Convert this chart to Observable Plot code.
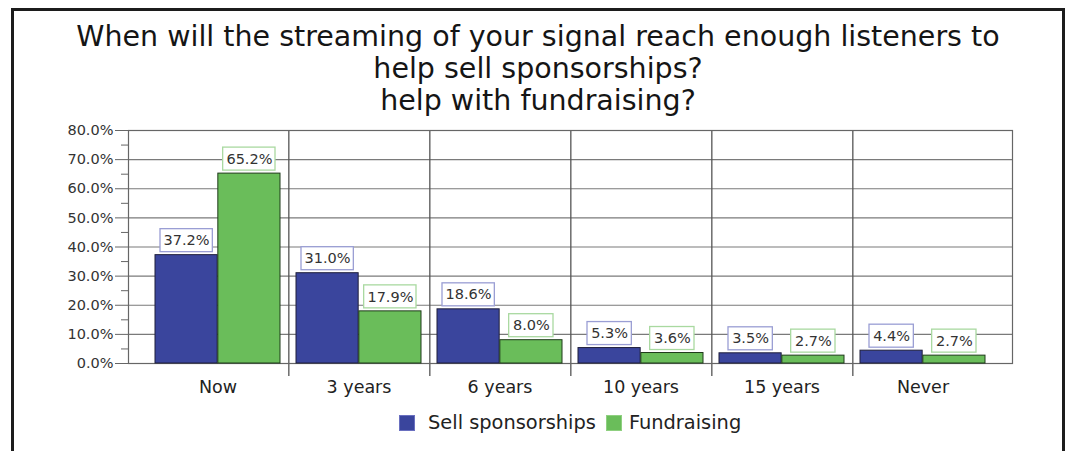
<!DOCTYPE html>
<html>
<head>
<meta charset="utf-8">
<script src="https://cdn.jsdelivr.net/npm/d3@7"></script>
<script src="https://cdn.jsdelivr.net/npm/@observablehq/plot@0.6"></script>
<style>
  html, body { margin: 0; padding: 0; background: #fff; }
  body { width: 1068px; height: 451px; overflow: hidden; position: relative; font-family: "DejaVu Sans", Verdana, sans-serif; }
  #frame { position: absolute; left: 11px; top: 8px; width: 1048px; height: 470px; border: 3px solid #1c1c1c; z-index: 3; pointer-events: none; }
  #title { position: absolute; left: 11px; width: 1054px; top: 21px; text-align: center; font-size: 28.5px; line-height: 32px; color: #151515; z-index: 2; }
  #chart { position: absolute; left: 0; top: 0; z-index: 1; }
  #legend { position: absolute; left: 399px; top: 411px; display: flex; align-items: center; font-size: 19.4px; color: #222; z-index: 2; white-space: nowrap; }
  .sw { width: 14px; height: 14px; border: 1px solid; display: inline-block; }
</style>
</head>
<body>
<div id="frame"></div>
<div id="title">When will the streaming of your signal reach enough listeners to<br>help sell sponsorships?<br>help with fundraising?</div>
<div id="chart"></div>
<div id="legend"></div>
<script>
// ---- data ----
const categories = ["Now", "3 years", "6 years", "10 years", "15 years", "Never"];
const sponsorships = [37.2, 31.0, 18.6, 5.3, 3.5, 4.4];
const fundraising = [65.2, 17.9, 8.0, 3.6, 2.7, 2.7];
const seriesNames = ["Sell sponsorships", "Fundraising"];
const seriesColors = ["#3a459d", "#6abd5a"];
const boxBorders = ["#9a9ed4", "#a9d9a0"];
const yTicks = [0, 10, 20, 30, 40, 50, 60, 70, 80];
const yMinorTicks = [5, 15, 25, 35, 45, 55, 65, 75];

const rowsS = categories.map((c, i) => ({category: c, series: seriesNames[0], value: sponsorships[i]}));
const rowsF = categories.map((c, i) => ({category: c, series: seriesNames[1], value: fundraising[i]}));
const fmt = d => d.value.toFixed(1) + "%";
const wide = d => d.value >= 10;
const narrow = d => d.value < 10;

const half = 884 / 6.24 / 2; // half band width in px (style offset)

const chart = Plot.plot({
  width: 1068,
  height: 451,
  marginLeft: 128,
  marginRight: 56,
  marginTop: 130,
  marginBottom: 88,
  style: {background: "transparent", fontFamily: "DejaVu Sans, Verdana, sans-serif"},
  x: {type: "band", domain: categories, paddingInner: 0, paddingOuter: 0.12, label: null},
  y: {domain: [0, 80], label: null},
  marks: [
    Plot.ruleY(yTicks, {stroke: "#7a7a7a", strokeWidth: 1.2}),
    Plot.ruleX(categories.slice(0, 5), {x: d => d, dx: half, stroke: "#555", strokeWidth: 1.3, insetBottom: -13}),
    Plot.frame({stroke: "#666", strokeWidth: 1.2}),
    Plot.axisY(yTicks, {tickSize: 13, tickPadding: 2, tickFormat: d => d.toFixed(1) + "%", fontSize: 14.5, fill: "#333", stroke: "#666", label: null}),
    Plot.axisY(yMinorTicks, {tickSize: 7, tickFormat: () => "", stroke: "#666", label: null}),
    Plot.axisX({tickSize: 0, tickPadding: 17, fontSize: 17.5, fill: "#222", label: null}),
    // bars
    Plot.barY(rowsS, {x: "category", y: "value", fill: seriesColors[0], stroke: "#1e1e3a", strokeWidth: 1, insetLeft: 8, insetRight: half}),
    Plot.barY(rowsF, {x: "category", y: "value", fill: seriesColors[1], stroke: "#1f3a1a", strokeWidth: 1, insetLeft: half, insetRight: 8}),
    // label boxes
    Plot.barY(rowsS, {filter: wide, x: "category", y1: "value", y2: "value", fill: "white", stroke: boxBorders[0], strokeWidth: 1.3, insetTop: -26, insetBottom: 3, insetLeft: 13, insetRight: 2 * half - 13 - 53}),
    Plot.barY(rowsS, {filter: narrow, x: "category", y1: "value", y2: "value", fill: "white", stroke: boxBorders[0], strokeWidth: 1.3, insetTop: -26, insetBottom: 3, insetLeft: 17, insetRight: 2 * half - 17 - 45}),
    Plot.barY(rowsF, {filter: wide, x: "category", y1: "value", y2: "value", fill: "white", stroke: boxBorders[1], strokeWidth: 1.3, insetTop: -26, insetBottom: 3, insetLeft: 2 * half - 13 - 53, insetRight: 13}),
    Plot.barY(rowsF, {filter: narrow, x: "category", y1: "value", y2: "value", fill: "white", stroke: boxBorders[1], strokeWidth: 1.3, insetTop: -26, insetBottom: 3, insetLeft: 2 * half - 17 - 45, insetRight: 17}),
    Plot.text(rowsS, {x: "category", y: "value", text: fmt, dx: -(half - 39.4), dy: -14.5, fontSize: 14.5, fill: "#333"}),
    Plot.text(rowsF, {x: "category", y: "value", text: fmt, dx: (half - 39.4), dy: -14.5, fontSize: 14.5, fill: "#333"})
  ]
});
document.getElementById("chart").appendChild(chart);

// legend
const legend = document.getElementById("legend");
seriesNames.forEach((name, i) => {
  const sw = document.createElement("span");
  sw.className = "sw";
  sw.style.background = seriesColors[i];
  sw.style.borderColor = i === 0 ? "#6a70c0" : "#8fd080";
  sw.style.marginRight = i === 0 ? "13px" : "7px";
  const t = document.createElement("span");
  t.textContent = name;
  t.style.marginRight = i === 0 ? "10px" : "0";
  legend.appendChild(sw);
  legend.appendChild(t);
});
</script>
</body>
</html>
